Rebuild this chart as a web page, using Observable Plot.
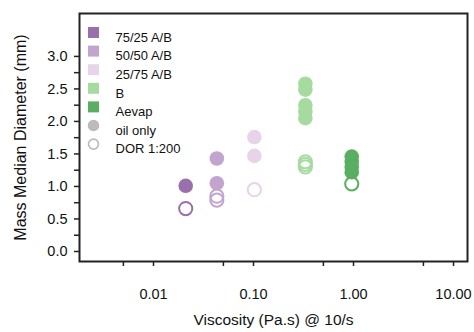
<!DOCTYPE html>
<html>
<head>
<meta charset="utf-8">
<script src="https://cdn.jsdelivr.net/npm/d3@7"></script>
<script src="https://cdn.jsdelivr.net/npm/@observablehq/plot@0.6"></script>
<style>
  html, body { margin: 0; padding: 0; background: #fff; }
</style>
</head>
<body>
<div id="chart"></div>
<script>
const series = ["75/25 A/B", "50/50 A/B", "25/75 A/B", "B", "Aevap"];
const colors = ["#9970ab", "#c2a5cf", "#e7d4e8", "#a6dba0", "#5aae61"];
const viscosity = [0.021, 0.043, 0.102, 0.33, 0.96];
const oilOnly = [[1.01], [1.43, 1.05], [1.76, 1.47], [2.58, 2.49, 2.25, 2.15, 2.05], [1.46, 1.38, 1.30, 1.22]];
const dor = [[0.66], [0.85, 0.79], [0.95], [1.38, 1.34, 1.30], [1.04]];
const xMajor = [0.01, 0.1, 1, 10];
const xMinor = [0.005, 0.05, 0.5, 5];
const yMajor = [0, 0.5, 1, 1.5, 2, 2.5, 3];
const yMinor = [0.25, 0.75, 1.25, 1.75, 2.25, 2.75];
const legendLabels = [...series, "oil only", "DOR 1:200"];
const xTitle = "Viscosity (Pa.s) @ 10/s";
const yTitle = "Mass Median Diameter (mm)";

const oilRows = series.flatMap((s, i) => oilOnly[i].map(d => ({s, v: viscosity[i], d})));
const dorRows = series.flatMap((s, i) => dor[i].map(d => ({s, v: viscosity[i], d})));

const font = "'Liberation Sans', Arial, sans-serif";
const gray = "#bbbbbb";

const legendMarks = legendLabels.flatMap((label, i) => {
  const dy = 19 + i * 18.6;
  let sym;
  if (i < series.length) {
    sym = Plot.dot([label], {frameAnchor: "top-left", dx: 14, dy, symbol: "square", r: 6.2, fill: colors[i]});
  } else if (i === series.length) {
    sym = Plot.dot([label], {frameAnchor: "top-left", dx: 14, dy, r: 5.8, fill: gray});
  } else {
    sym = Plot.dot([label], {frameAnchor: "top-left", dx: 14, dy, r: 5, fill: "none", stroke: gray, strokeWidth: 1.6});
  }
  const txt = Plot.text([label], {frameAnchor: "top-left", dx: 36, dy, text: d => d, textAnchor: "start", fontSize: 13, fill: "#111"});
  return [sym, txt];
});

const chart = Plot.plot({
  width: 474,
  height: 332,
  marginLeft: 79,
  marginRight: 7,
  marginTop: 13,
  marginBottom: 71,
  style: {fontFamily: font, background: "#fff", color: "#111"},
  x: {type: "log", domain: [0.00182, 13.8]},
  y: {domain: [-0.154, 3.66]},
  color: {domain: series, range: colors},
  marks: [
    Plot.axisX(xMajor, {tickSize: 5, tickPadding: 22, tickFormat: d3.format(".2f"), fontSize: 14.5, strokeWidth: 1.5, stroke: "#222", label: null}),
    Plot.axisX(xMinor, {tickSize: 5, tickFormat: () => "", strokeWidth: 1.5, stroke: "#222", label: null}),
    Plot.axisY(yMajor, {tickSize: 5, tickPadding: 7, tickFormat: d3.format(".1f"), fontSize: 14.5, strokeWidth: 1.5, stroke: "#222", label: null}),
    Plot.axisY(yMinor, {tickSize: 5, tickFormat: () => "", strokeWidth: 1.5, stroke: "#222", label: null}),
    Plot.dot(oilRows, {x: "v", y: "d", fill: "s", r: 7.3}),
    Plot.dot(dorRows, {x: "v", y: "d", stroke: "s", fill: "none", r: 6.6, strokeWidth: 2}),
    Plot.frame({stroke: "#222", strokeWidth: 2}),
    ...legendMarks,
    Plot.text([xTitle], {frameAnchor: "bottom", dy: 63, text: d => d, textAnchor: "middle", fontSize: 15.5, fill: "#111"}),
    Plot.text([yTitle], {frameAnchor: "left", dx: -59, dy: 0, rotate: -90, text: d => d, textAnchor: "middle", fontSize: 16, fill: "#111"})
  ]
});
document.getElementById("chart").appendChild(chart);
</script>
</body>
</html>
